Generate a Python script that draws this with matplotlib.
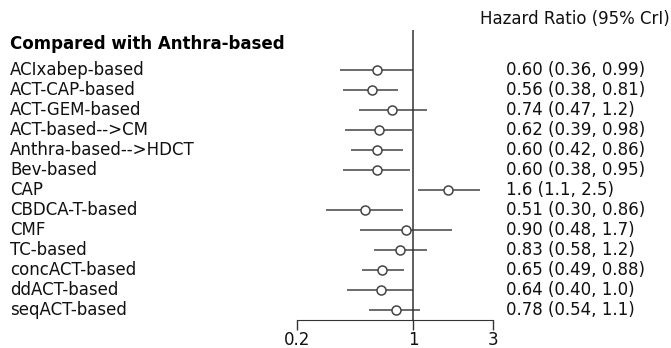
import numpy as np
import matplotlib.pyplot as plt
import matplotlib.transforms as mtransforms

# treatments vs Anthra-based
labels = ["ACIxabep-based", "ACT-CAP-based", "ACT-GEM-based", "ACT-based-->CM",
          "Anthra-based-->HDCT", "Bev-based", "CAP", "CBDCA-T-based", "CMF",
          "TC-based", "concACT-based", "ddACT-based", "seqACT-based"]
hr = [0.60, 0.56, 0.74, 0.62, 0.60, 0.60, 1.6, 0.51, 0.90, 0.83, 0.65, 0.64, 0.78]
lo = [0.36, 0.38, 0.47, 0.39, 0.42, 0.38, 1.07, 0.30, 0.48, 0.58, 0.49, 0.40, 0.54]
hi = [0.99, 0.81, 1.2, 0.98, 0.86, 0.95, 2.5, 0.86, 1.7, 1.2, 0.88, 1.0, 1.1]
hr_txt = ["0.60 (0.36, 0.99)", "0.56 (0.38, 0.81)", "0.74 (0.47, 1.2)",
          "0.62 (0.39, 0.98)", "0.60 (0.42, 0.86)", "0.60 (0.38, 0.95)",
          "1.6 (1.1, 2.5)", "0.51 (0.30, 0.86)", "0.90 (0.48, 1.7)",
          "0.83 (0.58, 1.2)", "0.65 (0.49, 0.88)", "0.64 (0.40, 1.0)",
          "0.78 (0.54, 1.1)"]
xticks = [0.2, 1, 3]

W, H = 671, 348
fig = plt.figure(figsize=(W / 100, H / 100), dpi=100)
ax = fig.add_axes([297 / W, (H - 320) / H, (493 - 297) / W, 290 / H])

fs = 12
txtcol = "#111111"
linecol = "#444444"

y = np.arange(len(labels))
ax.hlines(y, lo, hi, color=linecol, lw=1.1)
ax.plot(hr, y, "o", ms=6.5, mfc="white", mec=linecol, mew=1.1, zorder=3)
ax.axvline(1, color="#333333", lw=1.1)

ax.set_xscale("log")
ax.set_xlim(0.2, 3)
ax.set_ylim(12.5, -2)
ax.set_xticks(xticks)
ax.set_xticklabels([str(t) for t in xticks], fontsize=fs, color=txtcol)
ax.minorticks_off()
ax.tick_params(axis="x", length=7, width=1, color="#333333", pad=1)
ax.set_yticks([])
for s in ["top", "left", "right"]:
    ax.spines[s].set_visible(False)
ax.spines["bottom"].set_color("#333333")

tr = mtransforms.blended_transform_factory(fig.transFigure, ax.transData)
for i, lab in enumerate(labels):
    ax.text(10 / W, i, lab, transform=tr, fontsize=fs, va="center", ha="left",
            color=txtcol)
    ax.text(506 / W, i, hr_txt[i], transform=tr, fontsize=fs, va="center",
            ha="left", color=txtcol)
ax.text(10 / W, -1.3, "Compared with Anthra-based", transform=tr, fontsize=fs,
        fontweight="bold", va="center", ha="left", color="black")
fig.text(480 / W, (H - 19) / H, "Hazard Ratio (95% CrI)", fontsize=fs,
         va="center", ha="left", color=txtcol)

fig.savefig("out.png", dpi=100)
